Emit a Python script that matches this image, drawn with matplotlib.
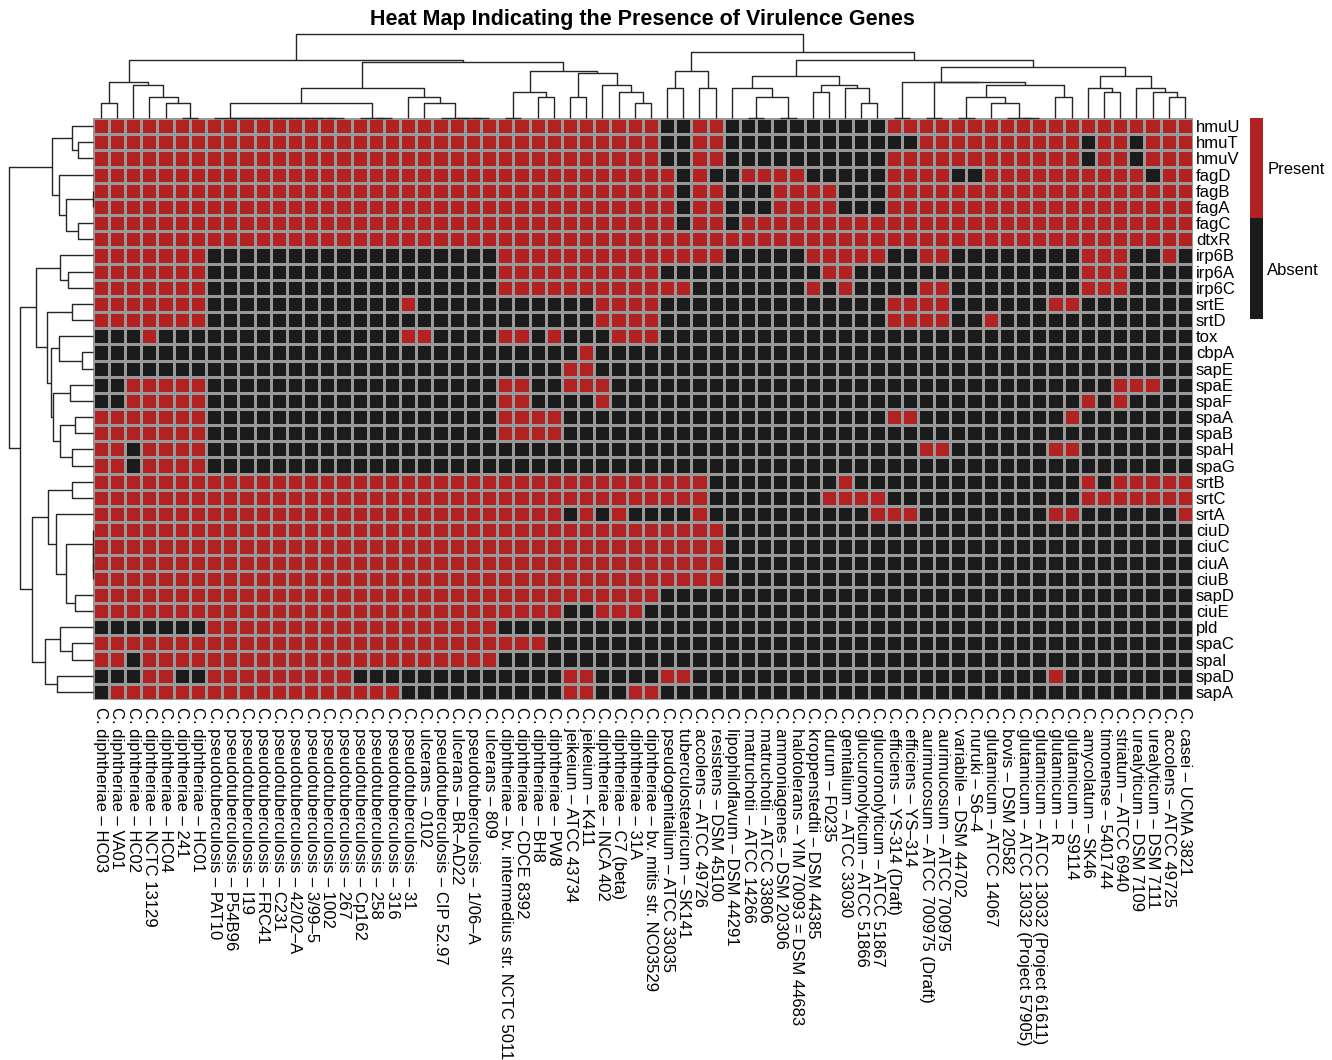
import numpy as np
import matplotlib
matplotlib.use('Agg')
import matplotlib.pyplot as plt
from matplotlib.colors import ListedColormap

plt.rcParams['font.family'] = ['Liberation Sans', 'DejaVu Sans']

# strains, in the order they appear along the columns
strains = [
    'C. diphtheriae – HC03', 'C. diphtheriae – VA01', 'C. diphtheriae – HC02',
    'C. diphtheriae – NCTC 13129', 'C. diphtheriae – HC04', 'C. diphtheriae – 241',
    'C. diphtheriae – HC01', 'C. pseudotuberculosis – PAT10', 'C. pseudotuberculosis – P54B96',
    'C. pseudotuberculosis – I19', 'C. pseudotuberculosis – FRC41', 'C. pseudotuberculosis – C231',
    'C. pseudotuberculosis – 42/02–A', 'C. pseudotuberculosis – 3/99–5', 'C. pseudotuberculosis – 1002',
    'C. pseudotuberculosis – 267', 'C. pseudotuberculosis – Cp162', 'C. pseudotuberculosis – 258',
    'C. pseudotuberculosis – 316', 'C. pseudotuberculosis – 31', 'C. ulcerans – 0102',
    'C. pseudotuberculosis – CIP 52.97', 'C. ulcerans – BR–AD22', 'C. pseudotuberculosis – 1/06–A',
    'C. ulcerans – 809', 'C. diphtheriae – bv. intermedius str. NCTC 5011', 'C. diphtheriae – CDCE 8392',
    'C. diphtheriae – BH8', 'C. diphtheriae – PW8', 'C. jeikeium – ATCC 43734',
    'C. jeikeium – K411', 'C. diphtheriae – INCA 402', 'C. diphtheriae – C7 (beta)',
    'C. diphtheriae – 31A', 'C. diphtheriae – bv. mitis str. NC03529', 'C. pseudogenitalium – ATCC 33035',
    'C. tuberculostearicum – SK141', 'C. accolens – ATCC 49726', 'C. resistens – DSM 45100',
    'C. lipophiloflavum – DSM 44291', 'C. matruchotii – ATCC 14266', 'C. matruchotii – ATCC 33806',
    'C. ammoniagenes – DSM 20306', 'C. halotolerans – YIM 70093 = DSM 44683', 'C. kroppenstedtii – DSM 44385',
    'C. durum – F0235', 'C. genitalium – ATCC 33030', 'C. glucuronolyticum – ATCC 51866',
    'C. glucuronolyticum – ATCC 51867', 'C. efficiens – YS-314 (Draft)', 'C. efficiens – YS–314',
    'C. aurimucosum – ATCC 700975 (Draft)', 'C. aurimucosum – ATCC 700975', 'C. variabile – DSM 44702',
    'C. nuruki – S6–4', 'C. glutamicum – ATCC 14067', 'C. bovis – DSM 20582',
    'C. glutamicum – ATCC 13032 (Project 57905)', 'C. glutamicum – ATCC 13032 (Project 61611)', 'C. glutamicum – R',
    'C. glutamicum – S9114', 'C. amycolatum – SK46', 'C. timonense – 5401744',
    'C. striatum – ATCC 6940', 'C. urealyticum – DSM 7109', 'C. urealyticum – DSM 7111',
    'C. accolens – ATCC 49725', 'C. casei – UCMA 3821',
]

genes = ['hmuU', 'hmuT', 'hmuV', 'fagD', 'fagB', 'fagA', 'fagC', 'dtxR', 'irp6B', 'irp6A',
         'irp6C', 'srtE', 'srtD', 'tox', 'cbpA', 'sapE', 'spaE', 'spaF', 'spaA', 'spaB',
         'spaH', 'spaG', 'srtB', 'srtC', 'srtA', 'ciuD', 'ciuC', 'ciuA', 'ciuB', 'sapD',
         'ciuE', 'pld', 'spaC', 'spaI', 'spaD', 'sapA']

# 1 = gene present, 0 = absent; one string per gene, strains in blocks of ten
presence = [
    '1111111111 1111111111 1111111111 1111100110 0000000001 1111111111 11111111',  # hmuU
    '1111111111 1111111111 1111111111 1111100110 0000000000 0111111111 10110111',  # hmuT
    '1111111111 1111111111 1111111111 1111100110 0000000001 1111111111 10110111',  # hmuV
    '1111111111 1111111111 1111111111 1111110100 1111000001 1110011111 11111011',  # fagD
    '1111111111 1111111111 1111111111 1111110110 0011110001 1111111111 11111111',  # fagB
    '1111111111 1111111111 1111111111 1111110110 0011110001 1111111111 11111111',  # fagA
    '1111111111 1111111111 1111111111 1111110110 1111111111 1111111111 11111111',  # fagC
    '1111111111 1111111111 1111111111 1111111111 1111111111 1111111111 11111111',  # dtxR
    '1111111000 0000000000 0000011111 1111111110 0000111110 0110000000 01110010',  # irp6B
    '1111111000 0000000000 0000011111 1111100000 0000011000 0000000000 01110000',  # irp6A
    '1111111000 0000000000 0000011111 1111111000 0000101000 0110000000 01110000',  # irp6C
    '1111111000 0000000001 0000000000 0111100000 0000000001 1110000001 10000000',  # srtE
    '1111111000 0000000000 0000000000 0111100000 0000000001 1110010000 00000000',  # srtD
    '0001000000 0000000001 1000011010 0011100000 0000000000 0000000000 00000000',  # tox
    '0000000000 0000000000 0000000000 1000000000 0000000000 0000000000 00000000',  # cbpA
    '0000000000 0000000000 0000000001 1000000000 0000000000 0000000000 00000000',  # sapE
    '0011111000 0000000000 0000011001 1100000000 0000000000 0000000000 00011100',  # spaE
    '0011111000 0000000000 0000011000 0100000000 0000000000 0000000000 01010000',  # spaF
    '1111111000 0000000000 0000011110 0000000000 0000000001 1000000000 10000000',  # spaA
    '1111111000 0000000000 0000011110 0000000000 0000000000 0000000000 00000000',  # spaB
    '1101111000 0000000000 0000000000 0000000000 0000000000 0110000001 10000000',  # spaH
    '1101111000 0000000000 0000000000 0000000000 0000000000 0000000000 00000000',  # spaG
    '1111111111 1111111111 1111111111 1111111100 0000001000 0000000000 01011111',  # srtB
    '1111111111 1111111111 1111111111 1111111100 0000011110 0000000000 01111111',  # srtC
    '1111111111 1111111111 1111111110 1010000100 0000000011 1000000001 10000001',  # srtA
    '1111111111 1111111111 1111111111 1111111110 0000000000 0000000000 00000000',  # ciuD
    '1111111111 1111111111 1111111111 1111111110 0000000000 0000000000 00000000',  # ciuC
    '1111111111 1111111111 1111111111 1111111110 0000000000 0000000000 00000000',  # ciuA
    '1111111111 1111111111 1111111111 1111111110 0000000000 0000000000 00000000',  # ciuB
    '1111111111 1111111111 1111111111 1111100000 0000000000 0000000000 00000000',  # sapD
    '1111111111 1111111111 1111111110 0111000000 0000000000 0000000000 00000000',  # ciuE
    '0000000111 1111111111 1111100000 0000000000 0000000000 0000000000 00000000',  # pld
    '1111111111 1111111111 1111111100 0000000000 0000000000 0000000000 00000000',  # spaC
    '1101111111 1111111111 1111100000 0000000000 0000000000 0000000000 00000000',  # spaI
    '0001100111 1111110000 0000000001 1000011000 0000000000 0000000001 00000000',  # spaD
    '0111111111 1111111110 0000000001 1001100000 0000000000 0000000000 00000000',  # sapA
]

mat = np.array([[int(c) for c in row.replace(' ', '')] for row in presence])
n_genes, n_strains = mat.shape

present_color = '#B22222'
absent_color = '#1B1B1B'
cmap = ListedColormap([absent_color, present_color])


def ordered_tree(X):
    """Complete-linkage clustering (euclidean) of the rows of X, merging only
    neighbours so the tree follows the existing leaf order."""
    dist = np.sqrt(((X[:, None, :] - X[None, :, :]) ** 2).sum(axis=2))
    members = [[i] for i in range(len(X))]
    xpos = [i + 0.5 for i in range(len(X))]
    hgt = [0.0] * len(X)
    segs = []
    while len(members) > 1:
        best_h, best_k = None, None
        for k in range(len(members) - 2, -1, -1):
            h = dist[np.ix_(members[k], members[k + 1])].max()
            if best_h is None or h < best_h - 1e-9:
                best_h, best_k = h, k
        k = best_k
        segs.append(([xpos[k], xpos[k], xpos[k + 1], xpos[k + 1]],
                     [hgt[k], best_h, best_h, hgt[k + 1]]))
        members[k] = members[k] + members.pop(k + 1)
        xpos[k] = (xpos[k] + xpos.pop(k + 1)) / 2
        hgt[k] = best_h
        hgt.pop(k + 1)
    return segs, hgt[0]


W, H = 1332, 1060
fig = plt.figure(figsize=(W / 100, H / 100), dpi=100)


def px_axes(x0, y0, x1, y1):
    return fig.add_axes([x0 / W, 1 - y1 / H, (x1 - x0) / W, (y1 - y0) / H])


hm_l, hm_t, hm_r, hm_b = 92.7, 118, 1193, 700

# heatmap
ax = px_axes(hm_l, hm_t, hm_r, hm_b)
ax.pcolormesh(np.arange(n_strains + 1), np.arange(n_genes + 1), mat, cmap=cmap,
              vmin=0, vmax=1, edgecolors='#999999', linewidth=0.9)
ax.set_xlim(0, n_strains)
ax.set_ylim(n_genes, 0)
for s in ax.spines.values():
    s.set_visible(False)
ax.set_xticks(np.arange(n_strains) + 0.5)
ax.set_xticklabels(strains, rotation=270, ha='center', va='top', fontsize=12)
ax.yaxis.tick_right()
ax.set_yticks(np.arange(n_genes) + 0.5)
ax.set_yticklabels(genes, fontsize=12)
ax.tick_params(axis='x', length=0, pad=5)
ax.tick_params(axis='y', length=0, pad=2)

dcol = '#262626'

# strain dendrogram
col_segs, col_top = ordered_tree(mat.T.astype(float))
axc = px_axes(hm_l, 34, hm_r, hm_t)
for xs, ys in col_segs:
    axc.plot(xs, ys, color=dcol, lw=1.0, solid_capstyle='butt', clip_on=False)
axc.set_xlim(0, n_strains)
axc.set_ylim(0, col_top)
axc.axis('off')

# gene dendrogram
row_segs, row_top = ordered_tree(mat.astype(float))
axr = px_axes(9, hm_t, hm_l, hm_b)
for ys, xs in row_segs:
    axr.plot(xs, ys, color=dcol, lw=1.0, solid_capstyle='butt', clip_on=False)
axr.set_xlim(row_top, 0)
axr.set_ylim(n_genes, 0)
axr.axis('off')

# legend bar
axl = px_axes(1250, 118, 1263, 319)
axl.imshow(np.array([[1], [0]]), cmap=cmap, vmin=0, vmax=1, aspect='auto')
for s in axl.spines.values():
    s.set_visible(False)
axl.set_xticks([])
axl.yaxis.tick_right()
axl.set_yticks([0, 1])
axl.set_yticklabels(['Present', 'Absent'], fontsize=12)
axl.tick_params(axis='y', length=0, pad=3)

fig.text((hm_l + hm_r) / 2 / W, 1 - 19 / H, 'Heat Map Indicating the Presence of Virulence Genes',
         ha='center', va='center', fontsize=15.5, fontweight='bold')

fig.savefig('out.png', dpi=100)
